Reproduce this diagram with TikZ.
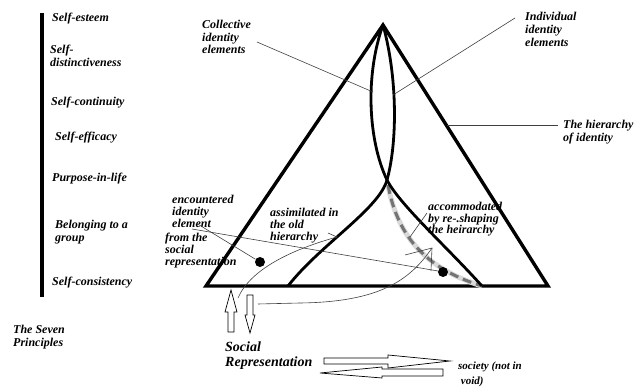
\documentclass[tikz,border=0pt]{standalone}
\usepackage{fontspec}
\setmainfont{Liberation Serif}
\begin{document}
\begin{tikzpicture}[x=1pt,y=-1pt,
  lbl/.style={font=\fontsize{12}{13}\selectfont\bfseries\itshape, anchor=north west, inner sep=0pt, align=left},
  tight/.style={font=\fontsize{12}{12}\selectfont\bfseries\itshape},
  big/.style={font=\fontsize{14}{15}\selectfont\bfseries\itshape},
  frame/.style={line width=3.4pt},
  scurve/.style={line width=2.8pt},
  leader/.style={line width=0.6pt, draw=black!75},
  hollow/.style={draw=black, line width=0.7pt, fill=white},
  dot/.style={circle, fill=black, minimum size=10pt, inner sep=0pt},
  reshape/.style={line width=3pt, draw=black!55, dash pattern=on 9pt off 5pt},
  halo/.style={line width=5pt, draw=black!15}
]
\useasboundingbox (0,0) rectangle (643,387);

% the seven principles
\draw[frame] (42,13) -- (42,297);
\node[lbl] (se)   at (52,13)  {Self-esteem};
\node[lbl] (sd)   at (50,45)  {Self-\\distinctiveness};
\node[lbl] (sc)   at (51,97)  {Self-continuity};
\node[lbl] (sef)  at (55,132) {Self-efficacy};
\node[lbl] (pil)  at (52,173) {Purpose-in-life};
\node[lbl] (bg)   at (55,220) {Belonging to a\\group};
\node[lbl] (scon) at (52,277) {Self-consistency};
\node[lbl] (seven) at (13,325) {The Seven\\Principles};

% hierarchy of identity
\coordinate (apex) at (383,25);
\coordinate (bl) at (206,286);
\coordinate (br) at (548,286);
\draw[frame] (apex) -- (bl) -- (br) -- cycle;

\coordinate (cross) at (387,180);
\coordinate (footA) at (482,286);
\coordinate (footB) at (288,286);

% re-shaping path
\draw[halo] (cross) ++(1,5) .. controls (398,240) and (430,270) .. (footA);
\draw[reshape] (cross) ++(1,5) .. controls (398,240) and (430,270) .. (footA);

% collective / individual strands
\draw[scurve] (apex) .. controls (365,75) and (368,140) .. (cross)
                     .. controls (400,205) and (445,245) .. (footA);
\draw[scurve] (apex) .. controls (397,75) and (398,140) .. (cross)
                     .. controls (379,209) and (320,245) .. (footB);

% labels and leaders
\node[lbl, font=\fontsize{12}{12.5}\selectfont\bfseries\itshape] (coll) at (202,20) {Collective\\identity\\elements};
\node[lbl] (indiv) at (525,12) {Individual\\identity\\elements};
\node[lbl] (hier) at (563,120) {The hierarchy\\of identity};
\coordinate (collA) at (257,42);  \coordinate (collB) at (373,92);
\coordinate (indA) at (515,18);   \coordinate (indB) at (393,95);
\coordinate (hierA) at (558,125); \coordinate (hierB) at (447,125);
\draw[leader] (collA) -- (collB);
\draw[leader] (indA) -- (indB);
\draw[leader] (hierA) -- (hierB);

\node[lbl, tight] (enc) at (172,195) {encountered\\identity\\element};
\node[lbl, tight] (from) at (165,233) {from the\\social\\representation};
\node[lbl, tight] (assim) at (270,208) {assimilated in\\the old\\hierarchy};
\node[lbl, font=\fontsize{12}{11.5}\selectfont\bfseries\itshape] (accom) at (428,202) {accommodated\\by re-.shaping\\the heirarchy};

\node[dot] (d1) at (260,262) {};
\node[dot] (d2) at (443,272) {};
\coordinate (encA) at (196,223);
\coordinate (encB) at (192,229);
\coordinate (encC) at (438,271);
\draw[leader] (encA) -- (d1);
\draw[leader] (encB) -- (encC);

% assimilation route
\coordinate (asA) at (238,298);
\coordinate (asB) at (337,237);
\coordinate (asC) at (328,233);
\draw[leader] (asA) .. controls (250,270) and (290,250) .. (asB);
\draw[leader] (asC) -- (asB);

% accommodation route
\coordinate (acA) at (258,304);
\coordinate (acM) at (300,303);
\coordinate (acB) at (432,248);
\coordinate (acC) at (405,255);
\coordinate (acD) at (431,271);
\draw[leader] (acA) -- (acM) .. controls (380,302) and (410,280) .. (acB);
\draw[leader] (acC) -- (acB) -- (acD);
\coordinate (accA) at (427,213);
\coordinate (accB) at (410,237);
\draw[leader] (accA) -- (accB);

% exchange with the social representation
\draw[hollow] (231,290) -- (237,312) -- (234,312) -- (234,332) -- (228,332) -- (228,312) -- (225,312) -- cycle;
\draw[hollow] (247,295) -- (253,295) -- (253,315) -- (255,315) -- (250,333) -- (245,315) -- (247,315) -- cycle;

\node[lbl, big] (sr) at (225,342) {Social\\Representation};

\draw[hollow] (324,358) -- (388,358) -- (388,355) -- (450,361) -- (388,368) -- (388,364) -- (324,364) -- cycle;
\draw[hollow] (443,369) -- (382,369) -- (382,367) -- (320,373) -- (382,378) -- (382,376) -- (443,376) -- cycle;

\node[lbl, font=\fontsize{11}{15}\selectfont\bfseries\itshape] (soc) at (458,362) {society (not in\\\ void)};
\end{tikzpicture}
\end{document}
